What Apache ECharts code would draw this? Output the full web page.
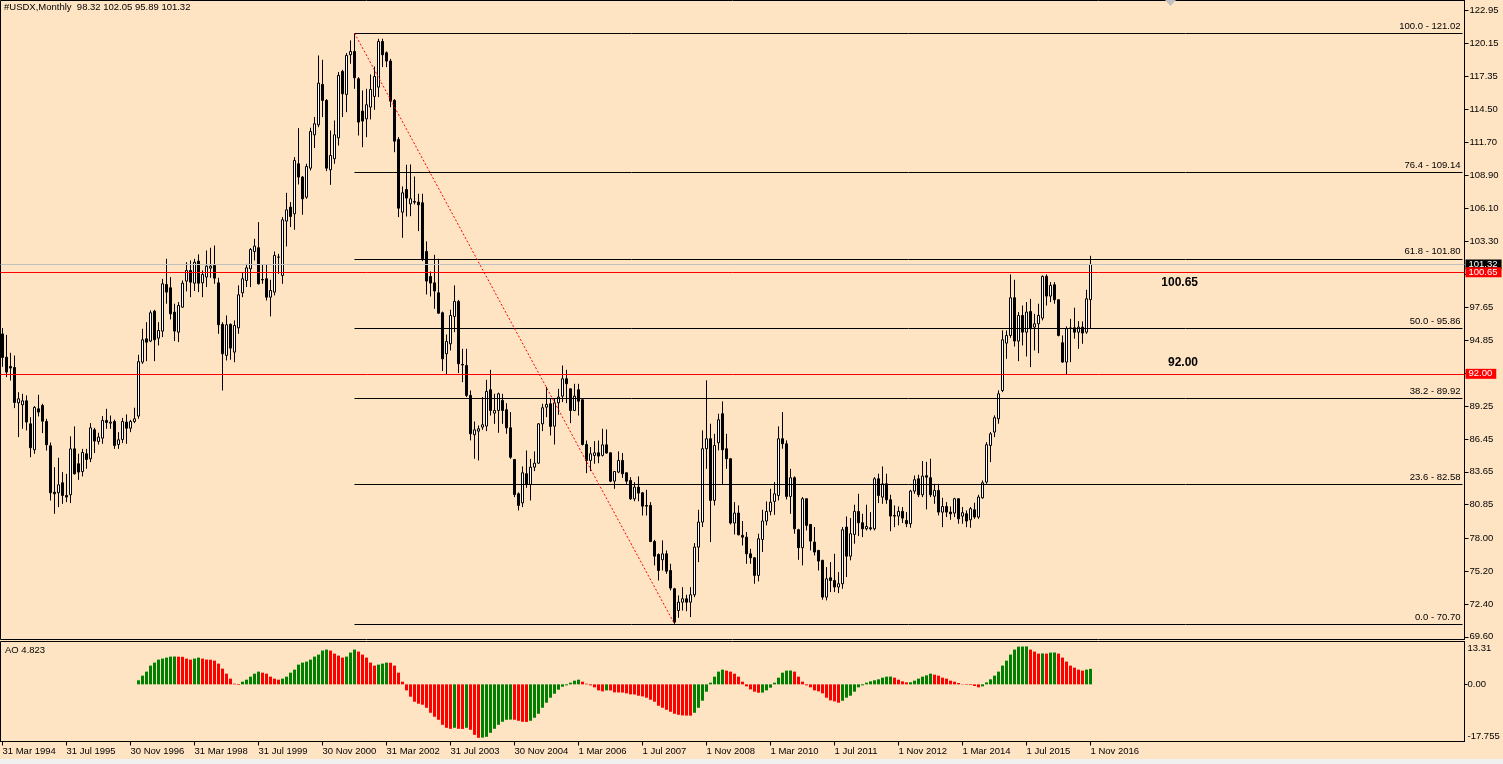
<!DOCTYPE html>
<html><head><meta charset="utf-8">
<script src="https://cdn.jsdelivr.net/npm/echarts@6/dist/echarts.min.js"></script>
<style>html,body{margin:0;padding:0;background:#FFE4C4;}#c{width:1503px;height:764px;}</style>
</head><body><div id="c"></div>
<script>
const symbolName = '#USDX,Monthly';
// monthly candles, index 0 = Mar 1994 ... index 272 = Nov 2016
const opens = [
95.40,93.42,92.63,92.54,89.53,89.36,89.70,87.74,85.53,89.02,
89.31,87.94,85.87,81.92,81.87,82.72,81.64,81.70,85.61,84.34,
83.68,85.19,84.76,87.23,86.24,86.52,88.03,87.80,87.94,85.98,
86.41,87.89,87.37,87.94,88.40,93.00,94.98,94.79,97.34,95.04,
95.64,99.61,99.33,97.26,95.55,97.68,99.90,100.80,99.72,101.60,
99.75,100.24,101.00,101.23,99.75,96.21,93.57,96.21,93.85,95.92,
98.90,99.95,100.95,102.42,102.74,100.04,100.10,98.53,98.96,101.95,
100.38,105.01,106.20,105.63,109.89,108.76,107.05,109.52,112.36,113.21,
116.65,115.29,109.38,110.32,112.10,117.76,115.80,119.18,119.46,117.13,
114.38,113.72,114.72,115.63,116.42,120.31,119.35,118.64,115.29,111.96,
105.77,107.70,106.48,106.68,106.63,106.57,102.42,100.29,99.75,98.90,
97.20,93.71,94.56,96.89,98.17,92.80,92.71,90.16,86.81,87.12,
87.46,87.55,90.64,88.65,88.88,89.73,88.94,87.40,84.70,81.78,
81.01,83.49,82.58,84.05,84.39,87.74,89.16,89.45,87.54,89.53,
90.10,91.58,90.72,88.88,90.64,89.79,85.98,84.62,85.05,85.27,
85.05,85.95,85.27,82.86,83.63,84.62,83.57,82.92,81.35,82.35,
81.87,80.79,80.79,77.72,76.61,76.16,76.67,75.25,73.69,71.84,
72.55,72.84,72.55,73.18,77.24,79.37,85.62,86.47,81.22,86.13,
88.60,85.62,84.77,79.29,80.14,78.24,78.09,76.67,76.33,74.83,
77.89,79.46,80.28,81.13,81.64,86.47,86.04,81.56,83.15,78.72,
77.19,81.36,79.17,77.67,76.96,76.11,72.98,74.63,74.40,73.84,
74.12,78.95,76.47,78.32,80.28,79.31,78.80,78.89,78.80,83.06,
81.50,82.63,81.27,79.94,79.88,80.28,79.51,79.23,82.01,83.06,
81.70,83.32,83.15,81.58,82.07,80.22,80.70,80.22,80.14,81.36,
79.88,80.08,79.57,80.42,79.80,81.44,82.78,85.90,87.04,88.17,
90.58,94.62,95.27,98.48,94.79,96.97,95.55,97.31,95.98,96.26,
96.75,100.30,98.62,99.59,98.31,94.65,93.00,95.90,95.92,95.55,
95.98,95.55,98.32];
const highs = [
95.90,95.32,93.79,93.56,90.44,90.30,90.16,88.31,89.25,90.21,
89.45,88.17,86.15,84.05,84.85,83.63,83.48,86.67,87.52,85.19,
85.61,85.61,87.80,87.40,86.98,88.40,89.02,88.45,88.10,87.03,
88.25,88.54,88.08,89.11,93.62,95.84,96.40,97.40,97.45,96.40,
100.09,101.80,100.24,97.97,98.11,99.95,101.51,101.66,101.80,102.17,
100.81,102.51,102.74,102.93,100.18,96.40,96.97,96.30,96.55,99.53,
100.66,101.37,102.71,103.50,104.92,101.29,101.29,100.01,102.42,102.22,
105.35,107.42,106.63,110.46,112.93,108.85,109.89,112.96,113.87,119.12,
118.75,115.40,112.73,113.58,117.70,117.90,119.32,120.40,121.02,117.27,
116.14,116.28,117.50,118.18,120.54,120.54,119.46,118.83,115.40,112.16,
107.96,109.81,109.83,108.81,107.34,107.34,103.28,100.72,102.14,101.80,
97.30,95.35,97.46,99.53,98.30,94.13,94.13,90.58,87.94,87.60,
90.02,91.49,92.34,90.30,90.40,90.30,89.50,88.74,84.75,81.90,
84.11,85.47,84.76,85.39,87.80,89.45,90.87,89.87,89.87,90.72,
92.71,92.34,90.75,91.15,91.15,89.82,86.32,85.76,86.27,86.32,
87.32,87.26,85.30,83.70,85.39,85.25,83.60,83.20,82.77,83.26,
81.90,82.12,81.07,77.86,76.70,77.81,76.95,75.82,73.77,73.12,
73.83,73.18,73.83,77.58,80.42,87.18,91.44,87.75,86.89,88.60,
89.65,86.89,84.80,81.07,80.79,79.46,78.52,77.10,76.39,78.38,
80.42,81.13,82.21,82.78,87.52,88.74,86.33,83.91,83.26,78.80,
81.50,81.40,79.20,78.95,77.00,76.16,75.54,75.96,76.67,75.11,
78.95,79.85,79.71,80.85,81.78,80.08,80.85,80.22,83.20,83.49,
84.11,83.49,81.70,80.79,80.70,80.65,80.22,82.12,83.34,83.40,
84.57,84.51,84.77,82.63,82.63,81.44,81.07,80.70,81.44,81.40,
80.65,80.36,80.65,81.02,81.70,82.92,86.18,87.04,88.46,90.59,
95.70,95.70,100.47,100.01,97.26,97.82,98.11,98.39,97.11,97.97,
100.38,100.47,99.81,99.81,98.31,95.27,96.04,96.69,97.63,96.49,
96.46,99.16,102.05];
const lows = [
92.60,91.72,91.43,89.08,86.61,87.32,87.18,84.90,85.19,88.37,
86.95,85.47,81.21,80.08,80.65,80.93,81.07,80.99,83.43,82.97,
83.26,83.91,84.48,85.25,85.98,86.04,87.32,87.32,85.61,85.61,
86.10,86.04,87.03,87.80,88.17,92.85,93.08,94.70,93.08,94.42,
95.13,97.97,96.63,94.79,94.70,97.62,99.02,98.53,99.05,98.96,
98.53,99.39,100.18,99.67,95.41,90.58,93.14,93.20,92.99,95.41,
98.53,99.39,99.39,101.66,99.61,99.67,98.25,96.89,98.68,100.52,
99.67,102.85,104.50,104.27,108.13,105.55,106.91,109.32,111.23,113.01,
113.87,109.27,108.10,109.89,111.45,113.87,114.29,118.41,116.28,112.30,
111.31,112.16,113.67,114.49,115.57,118.13,118.13,114.72,110.88,105.35,
103.59,105.40,105.43,106.43,104.16,101.60,98.76,98.59,97.54,97.11,
92.23,91.92,93.99,95.55,92.06,91.29,90.02,86.33,84.76,84.62,
87.23,87.12,88.45,87.74,86.98,87.74,86.89,84.76,81.50,80.36,
80.65,82.29,81.21,83.71,84.34,87.12,88.31,86.75,85.98,88.51,
89.59,89.50,87.80,88.82,88.45,85.90,83.54,83.71,84.34,84.39,
84.96,85.20,82.77,82.21,83.54,83.14,82.63,81.27,81.15,81.15,
79.93,79.93,77.66,75.68,74.40,75.25,74.97,73.55,70.70,71.22,
71.84,71.78,71.28,72.98,75.96,78.95,83.91,77.67,80.79,85.48,
82.55,83.91,79.17,78.32,78.24,77.38,75.82,75.82,74.12,74.32,
76.82,79.09,79.94,79.99,81.22,85.62,81.30,80.08,78.38,76.16,
75.68,78.66,76.96,76.53,75.25,72.76,72.70,73.41,73.41,73.32,
73.69,74.69,76.11,77.53,78.18,78.09,78.66,78.66,78.66,80.99,
80.93,80.93,78.60,78.94,79.09,79.29,78.94,78.89,81.78,81.50,
81.50,80.45,81.50,80.93,79.94,78.94,79.80,79.57,79.80,79.23,
79.23,78.94,78.89,79.65,79.65,81.36,82.63,84.48,86.61,87.75,
90.44,93.28,95.07,94.33,93.08,94.42,93.48,92.57,93.99,93.76,
96.55,97.82,98.11,97.97,95.19,92.94,91.95,93.00,94.99,94.13,
94.56,95.41,95.89];
const closes = [
93.40,92.15,92.49,89.56,89.87,89.70,87.89,85.70,89.14,88.74,
87.97,85.96,81.87,81.78,82.55,81.64,81.50,85.61,83.48,83.63,
85.30,84.71,87.40,86.27,86.61,88.03,87.86,87.89,85.90,86.38,
87.94,87.37,87.94,88.17,93.03,94.90,94.70,97.20,94.90,95.69,
99.67,98.96,97.11,95.64,97.82,99.72,100.80,99.81,101.51,99.72,
100.47,101.17,101.17,100.15,96.18,93.71,96.18,94.19,96.12,98.73,
100.10,101.03,102.59,102.88,99.67,100.00,98.53,99.10,102.08,101.94,
105.12,105.97,105.40,110.17,108.76,106.91,109.66,112.65,113.30,116.76,
115.29,109.52,110.60,112.36,117.42,115.85,119.12,119.46,117.22,113.44,
113.53,114.92,116.22,117.33,120.31,119.18,118.64,115.23,111.82,106.11,
107.42,106.97,106.91,106.62,106.40,101.80,99.90,99.73,99.05,97.17,
93.28,94.76,96.97,98.17,92.86,92.75,90.16,86.89,87.23,87.32,
87.66,90.50,88.88,88.88,90.30,88.88,87.40,84.90,81.72,80.79,
83.57,82.58,84.05,84.39,87.74,89.11,89.39,87.52,89.53,90.02,
91.58,91.15,88.88,90.10,89.67,85.98,84.62,85.19,85.27,84.99,
85.95,85.25,82.86,83.68,84.62,83.48,82.86,81.35,82.35,81.84,
80.73,80.73,77.72,76.47,75.25,76.67,75.19,73.75,70.85,72.55,
72.84,72.55,73.18,77.24,79.37,85.62,86.47,81.22,85.90,88.09,
85.53,84.77,79.29,80.14,78.29,78.09,76.67,76.33,74.83,77.95,
79.46,80.28,81.07,81.78,86.47,86.04,81.56,83.15,78.80,77.19,
81.36,79.09,77.75,76.82,76.05,72.98,74.54,74.40,73.84,74.12,
78.72,76.47,78.38,80.28,79.31,78.80,79.00,78.80,83.06,81.64,
82.63,81.27,79.88,79.88,80.28,79.71,79.23,82.01,82.98,81.70,
83.29,83.20,81.70,82.07,80.22,80.70,80.22,80.08,81.36,79.65,
80.17,79.46,80.51,79.80,81.50,82.72,85.96,86.89,88.26,90.30,
94.90,95.27,98.48,94.79,96.97,95.55,97.26,95.84,96.26,96.97,
100.30,98.62,99.53,98.31,95.27,93.00,95.84,95.89,95.55,95.98,
95.47,98.39,101.32];
// Awesome Oscillator values, first one at candle index aoStart
const aoStart = 34;
const aoValues = [
1.25,2.70,3.95,5.82,6.75,7.68,8.00,8.31,8.62,8.65,
8.60,8.55,8.00,7.68,8.00,8.31,8.00,7.70,7.65,7.37,
6.44,4.88,3.32,1.77,0.21,-0.21,0.83,1.45,2.39,3.32,
3.95,3.63,3.32,2.39,1.77,1.45,1.77,2.39,3.63,4.57,
6.13,6.75,7.06,7.68,8.62,9.24,10.49,10.80,10.49,9.55,
8.93,8.31,8.62,9.87,10.80,10.18,9.24,8.31,6.75,5.82,
6.13,6.44,6.75,6.70,5.82,3.63,0.83,-1.87,-3.84,-5.40,
-6.02,-6.33,-7.27,-8.83,-10.07,-11.01,-12.57,-13.50,-13.81,-13.50,
-13.81,-13.85,-13.50,-14.12,-15.68,-16.61,-16.55,-16.30,-15.06,-13.81,
-12.57,-11.63,-11.01,-10.95,-11.00,-11.32,-11.63,-11.68,-11.32,-10.38,
-9.14,-7.27,-5.71,-4.15,-2.91,-1.66,-0.73,-0.31,0.52,1.14,
1.45,0.83,0.21,-0.31,-0.93,-1.87,-2.18,-1.87,-1.90,-2.49,
-2.52,-2.55,-2.80,-3.12,-3.15,-3.53,-3.74,-4.15,-4.78,-5.40,
-6.65,-7.27,-7.89,-8.52,-9.14,-9.45,-9.66,-9.70,-9.72,-8.83,
-7.27,-5.09,-2.28,0.52,2.39,3.95,4.57,4.26,3.95,3.32,
2.39,0.83,-0.62,-1.56,-2.28,-2.60,-2.55,-1.87,-1.04,0.52,
2.08,3.63,4.26,4.30,3.95,2.39,0.83,-0.31,-0.93,-1.87,
-2.18,-2.80,-4.15,-4.98,-5.30,-5.71,-5.09,-4.15,-3.53,-2.28,
-0.93,-0.31,0.52,0.93,1.25,1.56,2.08,2.39,2.42,2.08,
1.45,0.93,0.62,0.65,1.14,1.77,2.39,2.80,3.32,3.01,
2.70,2.08,1.77,1.14,0.83,0.42,0.10,-0.15,-0.21,-0.52,
-0.93,-0.62,0.62,1.56,2.70,3.95,5.82,7.37,9.24,10.80,
11.73,11.75,11.78,10.80,10.18,9.55,9.60,9.55,9.87,9.90,
9.55,8.31,7.06,5.82,5.19,4.57,4.26,4.57,4.823];
const xTickLabels = ['31 Mar 1994','31 Jul 1995','30 Nov 1996','31 Mar 1998','31 Jul 1999','30 Nov 2000',
 '31 Mar 2002','31 Jul 2003','30 Nov 2004','1 Mar 2006','1 Jul 2007','1 Nov 2008','1 Mar 2010',
 '1 Jul 2011','1 Nov 2012','1 Mar 2014','1 Jul 2015','1 Nov 2016'];
const xTickStep = 16;
const totalSlots = 366;
const yTickValues = [122.95,120.15,117.35,114.50,111.70,108.90,106.10,103.30,100.50,97.65,94.85,92.05,
 89.25,86.45,83.65,80.85,78.00,75.20,72.40,69.60];
const aoTickValues = [13.31, 0, -17.755];
const aoTickLabels = ['13.31','0.00','-17.755'];
const fibLevels = [0.0, 23.6, 38.2, 50.0, 61.8, 76.4, 100.0];
const fibPrices = [70.70, 82.58, 89.92, 95.86, 101.80, 109.14, 121.02];
const fibHighIndex = 88, fibLowIndex = 168;
const levelPrices = [100.65, 92.00];
const levelTexts = ['100.65', '92.00'];
const levelTextAnchors = [[299, 99.78], [299, 92.97]];
const bidPrice = 101.32;

const FONT = "'Liberation Sans', Arial, sans-serif";
const FS = 9.5;
const cats = [];
for (let k = 0; k < totalSlots; k++) {
  const d = new Date(1994, 2 + k, 1);
  cats.push(d.getFullYear() + '-' + String(d.getMonth() + 1).padStart(2, '0'));
}
const candleData = opens.map((o, i) => [o, closes[i], lows[i], highs[i]]);
const aoFull = cats.map((c, i) => (i >= aoStart && i - aoStart < aoValues.length) ? aoValues[i - aoStart] : null);
const isTick = (i) => i % xTickStep === 0 && i / xTickStep < xTickLabels.length;
const last = opens.length - 1;

const markLines = [];
markLines.push({ yAxis: bidPrice, lineStyle: { color: '#C0C0C0', width: 1, type: 'solid' },
  label: { show: true, position: 'end', distance: 1, formatter: bidPrice.toFixed(2), color: '#fff', backgroundColor: '#000',
    padding: [0, 4, 0, 3], lineHeight: 10, fontSize: FS, fontFamily: FONT } });
levelPrices.forEach((p) => markLines.push({ yAxis: p, lineStyle: { color: '#FF0000', width: 1, type: 'solid' },
  label: { show: true, position: 'end', distance: 1, formatter: p.toFixed(2), color: '#fff', backgroundColor: '#FF0000',
    padding: [0, 4, 0, 3], lineHeight: 10, fontSize: FS, fontFamily: FONT } }));
fibPrices.forEach((p, k) => markLines.push([
  { coord: [fibHighIndex, p], lineStyle: { color: '#000', width: 1, type: 'solid' },
    label: { show: true, position: 'insideEndTop', distance: 2, formatter: fibLevels[k].toFixed(1) + ' - ' + p.toFixed(2),
      color: '#000', fontSize: FS, fontFamily: FONT } },
  { coord: [totalSlots - 1, p] }]));
markLines.push([
  { coord: [fibHighIndex, fibPrices[fibPrices.length - 1]], lineStyle: { color: '#FF0000', width: 1, type: [2, 2] }, label: { show: false } },
  { coord: [fibLowIndex, fibPrices[0]] }]);

const chart = echarts.init(document.getElementById('c'), null, { renderer: 'canvas' });
chart.setOption({
  animation: false,
  backgroundColor: '#FFE4C4',
  title: [
    { text: symbolName + '  ' + [opens[last], highs[last], lows[last], closes[last]].map(v => v.toFixed(2)).join(' '),
      left: 4, top: 2, padding: 0, textStyle: { fontSize: FS, fontWeight: 'normal', color: '#000', fontFamily: FONT } },
    { text: 'AO ' + aoValues[aoValues.length - 1].toFixed(3),
      left: 5, top: 645, padding: 0, textStyle: { fontSize: FS, fontWeight: 'normal', color: '#000', fontFamily: FONT } }
  ],
  grid: [
    { left: 0.5, top: 0.5, width: 1464, height: 639, show: true, borderColor: '#000', borderWidth: 1, backgroundColor: 'transparent', outerBoundsMode: 'none', containLabel: false },
    { left: 0.5, top: 641.5, width: 1464, height: 100, show: true, borderColor: '#000', borderWidth: 1, backgroundColor: 'transparent', outerBoundsMode: 'none', containLabel: false }
  ],
  xAxis: [
    { type: 'category', gridIndex: 0, data: cats, boundaryGap: true, show: false },
    { type: 'category', gridIndex: 1, data: cats, boundaryGap: true, position: 'bottom',
      axisLine: { show: true, onZero: false, lineStyle: { color: '#000', width: 1 } },
      axisTick: { show: true, alignWithLabel: true, interval: isTick, length: 4, lineStyle: { color: '#000' } },
      axisLabel: { interval: isTick, formatter: (v, i) => xTickLabels[i / xTickStep], align: 'left', margin: 5,
        color: '#000', fontSize: FS, fontFamily: FONT },
      splitLine: { show: false } }
  ],
  yAxis: [
    { type: 'value', gridIndex: 0, position: 'right', min: 69.37, max: 123.80,
      axisLine: { show: true, lineStyle: { color: '#000' } },
      axisTick: { show: true, customValues: yTickValues, length: 4, lineStyle: { color: '#000' } },
      axisLabel: { customValues: yTickValues, formatter: v => Number(v).toFixed(2), margin: 5, color: '#000', fontSize: FS, fontFamily: FONT },
      splitLine: { show: false } },
    { type: 'value', gridIndex: 1, position: 'right', min: -17.755, max: 13.31,
      axisLine: { show: true, lineStyle: { color: '#000' } },
      axisTick: { show: true, customValues: [0], length: 3, lineStyle: { color: '#000' } },
      axisLabel: { customValues: aoTickValues, margin: 3, color: '#000', fontSize: FS, fontFamily: FONT,
        formatter: v => { const k = aoTickValues.indexOf(Number(v)); const t = aoTickLabels[k];
          return k === 0 ? '{top|' + t + '}' : (k === 2 ? '{bot|' + t + '}' : t); },
        rich: { top: { padding: [13, 0, 0, 0], fontSize: FS, fontFamily: FONT, color: '#000' },
                bot: { padding: [0, 0, 11, 0], fontSize: FS, fontFamily: FONT, color: '#000' } } },
      splitLine: { show: false } }
  ],
  series: [
    { type: 'candlestick', xAxisIndex: 0, yAxisIndex: 0, data: candleData, barWidth: 2,
      itemStyle: { color: '#FFFFFF', color0: '#000000', borderColor: '#000000', borderColor0: '#000000', borderWidth: 1 },
      emphasis: { disabled: true }, silent: true,
      markLine: { symbol: ['none', 'none'], silent: true, animation: false, emphasis: { disabled: true }, data: markLines },
      markPoint: { symbol: 'circle', symbolSize: 1, itemStyle: { color: 'rgba(0,0,0,0)' }, silent: true, animation: false,
        data: levelTexts.map((t, k) => ({ coord: levelTextAnchors[k], value: t,
          label: { show: true, position: 'left', distance: 0, formatter: t, fontWeight: 'bold', fontSize: 12, color: '#000', fontFamily: FONT } })) } },
    { type: 'bar', xAxisIndex: 1, yAxisIndex: 1, data: aoFull, barWidth: 3, silent: true,
      itemStyle: { color: (p) => { const i = p.dataIndex; const prev = aoFull[i - 1]; return (prev == null || aoFull[i] > prev) ? '#008000' : '#FF0000'; } } }
  ],
  graphic: [
    { type: 'polygon', shape: { points: [[1165, 0], [1176, 0], [1170.5, 6]] }, style: { fill: '#C0C0C0' }, silent: true },
    { type: 'rect', shape: { x: 0, y: 759, width: 1503, height: 5 }, style: { fill: '#F0F0F0' }, silent: true }
  ]
});
</script>
</body></html>
